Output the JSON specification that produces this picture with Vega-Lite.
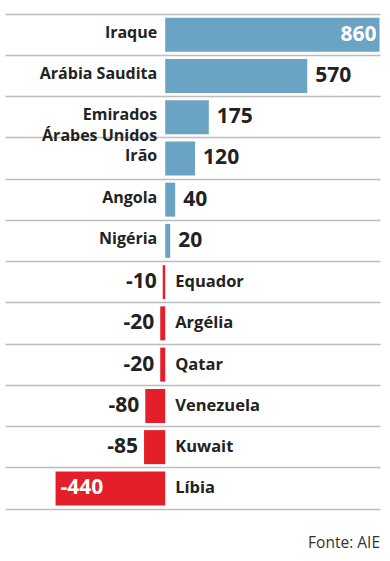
{
  "$schema": "https://vega.github.io/schema/vega-lite/v6.json",
  "autosize": {"type": "none"},
  "width": 375,
  "height": 495,
  "padding": {"left": 5, "top": 14, "right": 10, "bottom": 52},
  "background": "white",
  "config": {"view": {"stroke": null}, "font": "Open Sans"},
  "title": {"text": "Fonte: AIE", "orient": "bottom", "anchor": "end", "fontSize": 15.5, "fontWeight": "normal", "color": "#333", "offset": 27},
  "data": {"values": [
    {"country": "Iraque", "label": ["Iraque"], "value": 860, "pos": "in"},
    {"country": "Arábia Saudita", "label": ["Arábia Saudita"], "value": 570, "pos": "out"},
    {"country": "Emirados Árabes Unidos", "label": ["Emirados", "Árabes Unidos"], "value": 175, "pos": "out"},
    {"country": "Irão", "label": ["Irão"], "value": 120, "pos": "out"},
    {"country": "Angola", "label": ["Angola"], "value": 40, "pos": "out"},
    {"country": "Nigéria", "label": ["Nigéria"], "value": 20, "pos": "out"},
    {"country": "Equador", "label": ["Equador"], "value": -10, "pos": "out"},
    {"country": "Argélia", "label": ["Argélia"], "value": -20, "pos": "out"},
    {"country": "Qatar", "label": ["Qatar"], "value": -20, "pos": "out"},
    {"country": "Venezuela", "label": ["Venezuela"], "value": -80, "pos": "out"},
    {"country": "Kuwait", "label": ["Kuwait"], "value": -85, "pos": "out"},
    {"country": "Líbia", "label": ["Líbia"], "value": -440, "pos": "in"}
  ]},
  "encoding": {
    "y": {"field": "country", "type": "nominal", "sort": null,
      "scale": {"paddingInner": 0, "paddingOuter": 0},
      "axis": {"title": null, "labels": false, "ticks": false, "domain": false, "grid": true, "bandPosition": 0, "gridColor": "#bdbdbd", "gridWidth": 1.5}}
  },
  "layer": [
    {
      "mark": {"type": "bar", "size": 34},
      "encoding": {
        "x": {"field": "value", "type": "quantitative", "scale": {"domain": [-643, 862], "nice": false, "zero": false},
          "axis": {"title": null, "labels": false, "ticks": false, "grid": false, "domain": true, "domainColor": "#bdbdbd", "domainWidth": 1.5}},
        "color": {"condition": {"test": "datum.value > 0", "value": "#6aa3c4"}, "value": "#e3202a"}
      }
    },
    {
      "mark": {"type": "rule", "color": "#9a9a9a", "strokeWidth": 1},
      "encoding": {"x": {"datum": 0, "type": "quantitative"}}
    },
    {
      "transform": [{"filter": "datum.value > 0"}],
      "mark": {"type": "text", "align": "right", "baseline": "middle", "dx": -8, "dy": -2, "fontSize": 16, "fontWeight": "bold", "color": "#222", "lineHeight": 20.5},
      "encoding": {"x": {"datum": 0, "type": "quantitative"}, "text": {"field": "label"}}
    },
    {
      "transform": [{"filter": "datum.value < 0"}],
      "mark": {"type": "text", "align": "left", "baseline": "middle", "dx": 10, "fontSize": 16.5, "fontWeight": "bold", "color": "#222"},
      "encoding": {"x": {"datum": 0, "type": "quantitative"}, "text": {"field": "label"}}
    },
    {
      "transform": [{"filter": "datum.value > 0 && datum.pos == 'out'"}],
      "mark": {"type": "text", "align": "left", "baseline": "middle", "dx": 8, "fontSize": 21, "fontWeight": "bold", "color": "#222"},
      "encoding": {"x": {"field": "value", "type": "quantitative"}, "text": {"field": "value"}}
    },
    {
      "transform": [{"filter": "datum.value > 0 && datum.pos == 'in'"}],
      "mark": {"type": "text", "align": "right", "baseline": "middle", "dx": -3, "fontSize": 21, "fontWeight": "bold", "color": "white"},
      "encoding": {"x": {"field": "value", "type": "quantitative"}, "text": {"field": "value"}}
    },
    {
      "transform": [{"filter": "datum.value < 0 && datum.pos == 'out'"}],
      "mark": {"type": "text", "align": "right", "baseline": "middle", "dx": -6, "fontSize": 21, "fontWeight": "bold", "color": "#222"},
      "encoding": {"x": {"field": "value", "type": "quantitative"}, "text": {"field": "value"}}
    },
    {
      "transform": [{"filter": "datum.value < 0 && datum.pos == 'in'"}],
      "mark": {"type": "text", "align": "left", "baseline": "middle", "dx": 5, "fontSize": 21, "fontWeight": "bold", "color": "white"},
      "encoding": {"x": {"field": "value", "type": "quantitative"}, "text": {"field": "value"}}
    }
  ]
}
